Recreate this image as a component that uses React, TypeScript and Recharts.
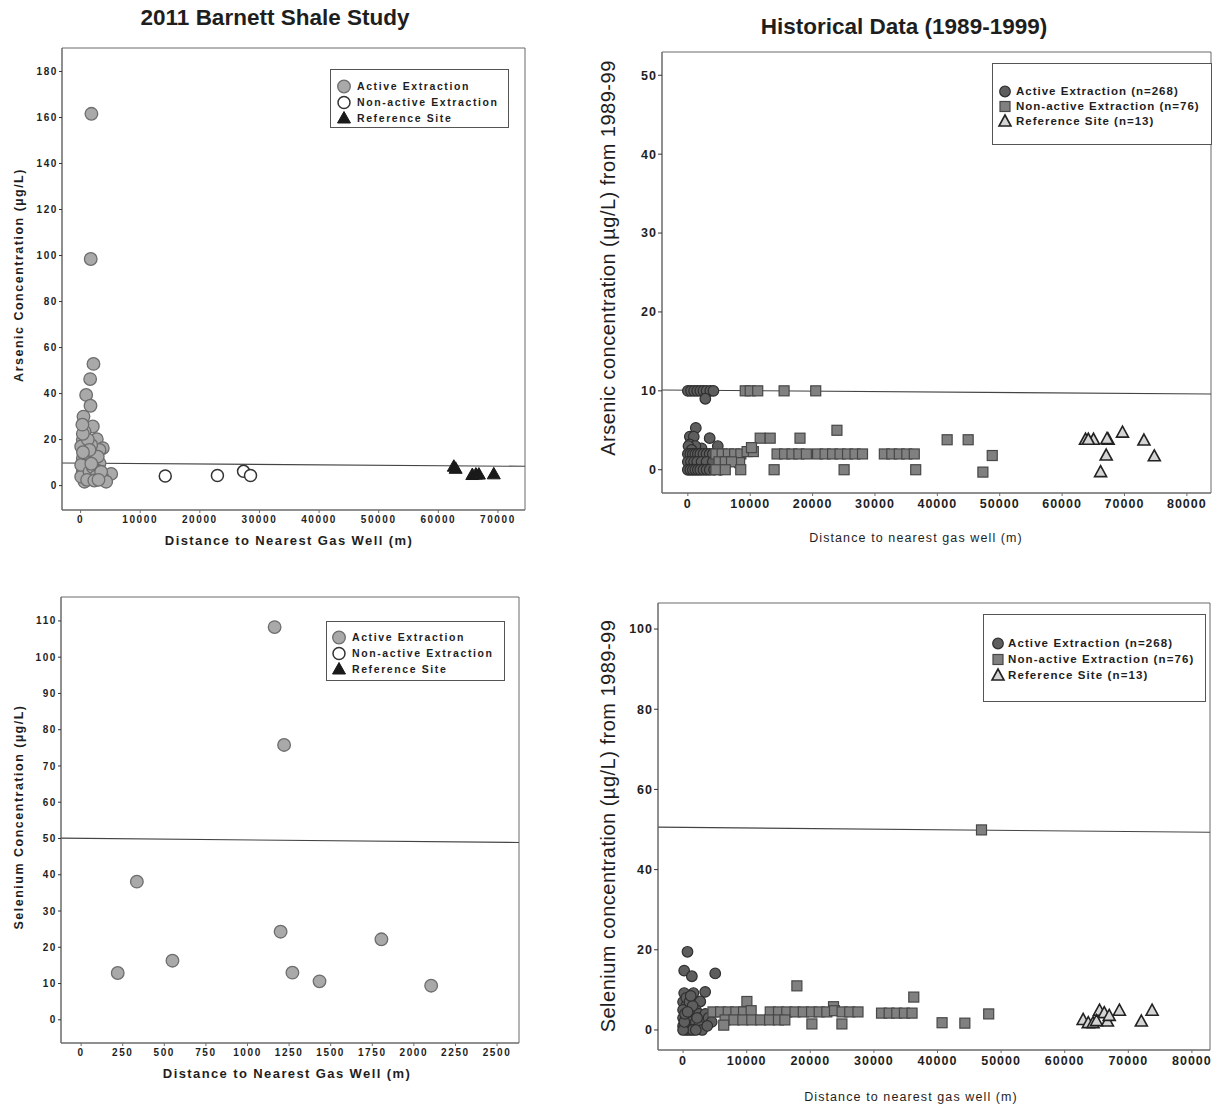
import React from 'react';
import { ScatterChart, Scatter, XAxis, YAxis, ReferenceLine, ReferenceArea, Legend } from 'recharts';

// ---------- DATA ----------
// 2011 Barnett Shale Study - Arsenic (distance m, concentration ug/L)
const barnettArsenicActive: number[][] = [
  [1814, 161.6], [1700, 98.5], [2160, 52.9], [1604, 46.3], [933, 39.4], [1660, 34.7], [486, 30],
  [2050, 25.7], [654, 23.5], [2720, 20.2], [375, 19.9], [3725, 16.3], [3170, 15.5], [1770, 17.7],
  [933, 14.1], [375, 11.9], [2050, 13.3], [3170, 9.7], [933, 8.3], [375, 6.1], [2610, 6.8],
  [5130, 5.1], [3725, 3.2], [1490, 3.2], [654, 1.7], [4290, 1.7], [100, 3.9], [2050, 3.9],
  [1210, 11.2], [2880, 12.6], [100, 17], [100, 9], [1490, 6], [2050, 8], [1210, 20], [375, 22.5],
  [2600, 4], [3450, 6], [654, 14], [1490, 15.5], [300, 26.5], [1100, 2.5], [2300, 2.2], [3000, 2.5],
  [400, 14.5], [1800, 9.5],
];
const barnettArsenicNonActive: number[][] = [[14200, 4.2], [22950, 4.4], [27330, 6.2], [28500, 4.4]];
const barnettArsenicReference: number[][] = [[62600, 8.2], [62900, 7.3], [65700, 4.6], [66300, 4.8], [66800, 4.8], [69300, 4.9]];

// 2011 Barnett Shale Study - Selenium
const barnettSeleniumActive: number[][] = [
  [1163, 108.3], [1220, 75.8], [335, 38.1], [220, 12.9], [549, 16.3], [1199, 24.3], [1270, 13],
  [1433, 10.6], [1805, 22.2], [2104, 9.4],
];

// Historical 1989-1999 - Arsenic
const histArsenicActive: number[][] = [
  [0, 10], [500, 10], [1000, 10], [1500, 10], [2000, 10], [2500, 10], [3000, 10], [3600, 10], [4100, 10], [2800, 9.0],
  [1275, 5.3], [320, 4.2], [950, 4.2], [3500, 4], [300, 3.2], [4800, 3], [2200, 2.7], [1200, 3], [100, 3], [600, 2.5],
  [0, 2], [400, 2], [800, 2], [1200, 2], [1600, 2], [2000, 2], [2500, 2], [3000, 2], [3500, 2], [4000, 2],
  [0, 1], [500, 1], [1000, 1], [1500, 1], [2200, 1], [3000, 1], [4000, 1],
  [0, 0], [400, 0], [800, 0], [1200, 0], [1600, 0], [2000, 0], [2500, 0], [3000, 0], [3500, 0], [4200, 0], [5200, 0],
];
const histArsenicNonActive: number[][] = [
  [9200, 10], [10000, 10], [11200, 10], [15430, 10], [20500, 10],
  [23900, 5], [11600, 4], [13200, 4], [17980, 4], [41570, 3.8], [44940, 3.8],
  [4500, 2], [5500, 2], [6500, 2], [7500, 2], [8500, 2], [9500, 2.3], [10500, 2.3],
  [14300, 2], [15500, 2], [16700, 2], [17800, 2], [19000, 2],
  [20800, 2], [22000, 2], [23200, 2], [24400, 2], [25600, 2], [26800, 2], [28000, 2],
  [31500, 2], [32700, 2], [33900, 2], [35100, 2], [36300, 2], [48800, 1.8],
  [8300, 0.9], [5000, 1], [6000, 1], [7000, 1], [10200, 2.8],
  [8480, 0], [13830, 0], [25050, 0], [36530, 0], [47300, -0.3], [4500, 0], [6000, 0],
];
const histArsenicReference: number[][] = [
  [63750, 3.8], [65030, 3.8], [67380, 3.8], [69680, 4.7], [73120, 3.7], [67070, 1.8], [74780, 1.7],
  [66170, -0.3], [64200, 3.8], [67200, 3.9],
];

// Historical 1989-1999 - Selenium
const histSeleniumActive: number[][] = [
  [690, 19.5], [170, 14.8], [1380, 13.4], [5050, 14.1], [170, 9.2], [1630, 9.2], [3470, 9.5], [2700, 7.1],
  [0, 7], [500, 6], [1000, 5], [1500, 4], [2000, 5], [2500, 4], [3000, 3], [3500, 4], [4000, 3],
  [0, 5], [0, 3], [500, 3], [1000, 2], [1500, 1], [2000, 2], [2500, 1], [3000, 0], [0, 1], [500, 0],
  [1000, 0], [1500, 0], [2000, 0], [500, 8], [1000, 7], [1500, 6], [0, 0], [200, 2], [300, 4],
  [4500, 2], [3800, 1], [2200, 3], [1200, 8.5], [700, 4.5],
];
const histSeleniumNonActive: number[][] = [
  [46920, 49.9], [17890, 11], [10030, 7.1], [23650, 5.8], [36270, 8.2],
  [4700, 4.5], [5900, 4.5], [7100, 4.5], [8300, 4.5], [9500, 4.5], [10700, 4.8], [13700, 4.5],
  [15000, 4.5], [16300, 4.5], [17600, 4.5], [18900, 4.5], [20200, 4.5], [21400, 4.5], [22600, 4.5],
  [23800, 4.8], [25000, 4.5], [26200, 4.5], [27500, 4.5], [31200, 4.2], [32400, 4.2], [33600, 4.2],
  [34800, 4.2], [36000, 4.2],
  [6600, 2.5], [8000, 2.5], [9400, 2.5], [10800, 2.5], [12200, 2.5], [13600, 2.5], [15000, 2.5], [16000, 2.5],
  [20250, 1.5], [24970, 1.5], [6390, 1.2], [40720, 1.8], [44300, 1.7], [48050, 4.0],
];
const histSeleniumReference: number[][] = [
  [62900, 2.5], [63710, 1.7], [64460, 1.7], [65470, 4.8], [66220, 4.2], [66720, 2.1], [68600, 4.8],
  [72050, 2.1], [73740, 4.8], [67000, 3.5], [65000, 2.2],
];

// guideline segments (as drawn, slightly skewed scan)
const barnettArsenicGuide = [[-3118, 9.8], [74535, 8.4]];
const histArsenicGuide = [[-4144, 10.1], [83870, 9.6]];
const barnettSeleniumGuide = [[-121, 50.1], [2632, 48.9]];
const histSeleniumGuide = [[-3946, 50.6], [82846, 49.3]];

// ticks
const barnettArsenicYTicks = [0, 20, 40, 60, 80, 100, 120, 140, 160, 180];
const barnettArsenicXTicks = [0, 10000, 20000, 30000, 40000, 50000, 60000, 70000];
const barnettSeleniumYTicks = [0, 10, 20, 30, 40, 50, 60, 70, 80, 90, 100, 110];
const barnettSeleniumXTicks = [0, 250, 500, 750, 1000, 1250, 1500, 1750, 2000, 2250, 2500];
const histArsenicYTicks = [0, 10, 20, 30, 40, 50];
const histSeleniumYTicks = [0, 20, 40, 60, 80, 100];
const histXTicks = [0, 10000, 20000, 30000, 40000, 50000, 60000, 70000, 80000];

// legend labels
const barnettLegend = ['Active Extraction', 'Non-active Extraction', 'Reference Site'];
const histLegend = ['Active Extraction (n=268)', 'Non-active Extraction (n=76)', 'Reference Site (n=13)'];

// ---------- STYLING ----------
const FONT = "'Liberation Sans', Arial, Helvetica, sans-serif";
const INK = '#1e1e1e';
const FRAME = '#6a6a6a';

const pts = (a: number[][]) => a.map(([d, v]) => ({ d, v }));

type MarkKind = 'bActive' | 'bOpen' | 'bTri' | 'hCircle' | 'hSquare' | 'hTri';

function Mark({ kind, cx, cy }: { kind: MarkKind; cx: number; cy: number }) {
  switch (kind) {
    case 'bActive':
      return <circle cx={cx} cy={cy} r={6.3} fill="#a9a9a9" stroke="#6d6d6d" strokeWidth={1.3} />;
    case 'bOpen':
      return <circle cx={cx} cy={cy} r={6} fill="#ffffff" stroke="#333" strokeWidth={1.5} />;
    case 'bTri':
      return <path d={`M${cx},${cy - 7} L${cx + 6.5},${cy + 4.5} L${cx - 6.5},${cy + 4.5} Z`} fill="#1a1a1a" stroke="#1a1a1a" strokeWidth={1} />;
    case 'hCircle':
      return <circle cx={cx} cy={cy} r={5.3} fill="#5e5e5e" stroke="#2f2f2f" strokeWidth={1.2} />;
    case 'hSquare':
      return <rect x={cx - 5} y={cy - 5} width={10} height={10} fill="#808080" stroke="#474747" strokeWidth={1.2} />;
    case 'hTri':
      return <path d={`M${cx},${cy - 6.5} L${cx + 6},${cy + 4.5} L${cx - 6},${cy + 4.5} Z`} fill="#d4d4d4" stroke="#222" strokeWidth={1.6} />;
  }
  return null;
}

const shapeOf = (kind: MarkKind) => (p: any) => <Mark kind={kind} cx={p.cx} cy={p.cy} />;

type SeriesCfg = { name: string; data: number[][]; kind: MarkKind };

type LegendBoxCfg = {
  left: number; top: number; width: number; height: number;
  padTop: number; rowGap: number; fontSize: number; letterSpacing: number;
  padLeft: number; iconW: number; gap: number;
};

type PanelCfg = {
  left: number; top: number; width: number; height: number;
  frame: [number, number, number, number];
  xDomain: [number, number]; yDomain: [number, number];
  xTicks: number[]; yTicks: number[];
  series: SeriesCfg[];
  guide: number[][];
  yLabel: string; xLabel: string;
  tickStyle: any; yTickSize: number;
  yLabelStyle: any; yLabelX: number; yLabelY: number;
  xLabelStyle: any; xLabelBaseline: number; xLabelCenter: number;
  legendItems: { label: string; kind: MarkKind }[];
  legendBox: LegendBoxCfg;
};

function LegendBox({ cfg }: { cfg: PanelCfg }) {
  const b = cfg.legendBox;
  return (
    <div style={{ width: b.width, height: b.height, border: '1px solid #555', background: '#fff', boxSizing: 'border-box', position: 'relative', fontFamily: FONT }}>
      {cfg.legendItems.map((it, i) => (
        <div key={it.label} style={{ position: 'absolute', left: b.padLeft, top: b.padTop + i * b.rowGap, height: 16, display: 'flex', alignItems: 'center', whiteSpace: 'nowrap' }}>
          <svg width={b.iconW} height={16} style={{ display: 'block', overflow: 'visible' }}>
            <Mark kind={it.kind} cx={b.iconW / 2} cy={8.5} />
          </svg>
          <span style={{ fontSize: b.fontSize, fontWeight: 700, color: INK, letterSpacing: b.letterSpacing, marginLeft: b.gap }}>{it.label}</span>
        </div>
      ))}
    </div>
  );
}

function Panel({ cfg }: { cfg: PanelCfg }) {
  const [x0, y0, x1, y1] = cfg.frame;
  const margin = { top: y0 - cfg.top, right: cfg.left + cfg.width - x1, bottom: 0, left: 0 };
  const yAxisW = x0 - cfg.left;
  const xAxisH = cfg.top + cfg.height - y1;
  const yLab = () => {
    const cx = cfg.yLabelX - cfg.left;
    const cy = cfg.yLabelY - cfg.top;
    return (
      <text x={cx} y={cy} transform={`rotate(-90 ${cx} ${cy})`} textAnchor="middle" dominantBaseline="central" style={cfg.yLabelStyle}>
        {cfg.yLabel}
      </text>
    );
  };
  const xLab = () => (
    <text x={cfg.xLabelCenter - cfg.left} y={cfg.xLabelBaseline - cfg.top} textAnchor="middle" style={cfg.xLabelStyle}>
      {cfg.xLabel}
    </text>
  );
  const [g0, g1] = cfg.guide;
  return (
    <div style={{ position: 'absolute', left: cfg.left, top: cfg.top, width: cfg.width, height: cfg.height }}>
      <ScatterChart width={cfg.width} height={cfg.height} margin={margin}>
        <XAxis
          dataKey="d" type="number" domain={cfg.xDomain} ticks={cfg.xTicks} interval={0} allowDataOverflow
          height={xAxisH} tickSize={3} tickMargin={3}
          axisLine={{ stroke: FRAME }} tickLine={{ stroke: FRAME }} tick={cfg.tickStyle}
          label={xLab}
        />
        <YAxis
          dataKey="v" type="number" domain={cfg.yDomain} ticks={cfg.yTicks} interval={0} allowDataOverflow
          width={yAxisW} tickSize={cfg.yTickSize} tickMargin={1}
          axisLine={{ stroke: FRAME }} tickLine={{ stroke: '#333' }} tick={cfg.tickStyle}
          label={yLab}
        />
        <ReferenceArea
          x1={cfg.xDomain[0]} x2={cfg.xDomain[1]} y1={cfg.yDomain[0]} y2={cfg.yDomain[1]}
          fill="none" fillOpacity={0} stroke={FRAME} strokeWidth={1} ifOverflow="visible"
        />
        <ReferenceLine
          segment={[{ x: g0[0], y: g0[1] }, { x: g1[0], y: g1[1] }]}
          stroke="#444" strokeWidth={1.1} ifOverflow="hidden"
        />
        {cfg.series.map((s) => (
          <Scatter key={s.name} name={s.name} data={pts(s.data)} shape={shapeOf(s.kind)} isAnimationActive={false} />
        ))}
        <Legend
          layout="horizontal" verticalAlign="middle" align="center"
          wrapperStyle={{ left: cfg.legendBox.left - cfg.left, top: cfg.legendBox.top - cfg.top, width: cfg.legendBox.width, height: cfg.legendBox.height }}
          content={() => <LegendBox cfg={cfg} />}
        />
      </ScatterChart>
    </div>
  );
}

const leftTick = { fontSize: 10, fontWeight: 700, fill: INK, fontFamily: FONT, letterSpacing: 1.6 };
const rightTick = { fontSize: 12.5, fontWeight: 700, fill: INK, fontFamily: FONT, letterSpacing: 1 };
const leftYLabel = { fontSize: 12.5, fontWeight: 700, fill: INK, fontFamily: FONT, letterSpacing: 1.5 };
const leftXLabel = { fontSize: 13, fontWeight: 700, fill: INK, fontFamily: FONT, letterSpacing: 1.4 };
const rightYLabel = { fontSize: 20, fontWeight: 400, fill: INK, fontFamily: FONT, letterSpacing: 0.5 };
const rightXLabel = { fontSize: 12.5, fontWeight: 400, fill: INK, fontFamily: FONT, letterSpacing: 1.1 };

const barnettLegendItems = [
  { label: barnettLegend[0], kind: 'bActive' as MarkKind },
  { label: barnettLegend[1], kind: 'bOpen' as MarkKind },
  { label: barnettLegend[2], kind: 'bTri' as MarkKind },
];
const histLegendItems = [
  { label: histLegend[0], kind: 'hCircle' as MarkKind },
  { label: histLegend[1], kind: 'hSquare' as MarkKind },
  { label: histLegend[2], kind: 'hTri' as MarkKind },
];

const panels: PanelCfg[] = [
  {
    left: 0, top: 30, width: 540, height: 530, frame: [62, 48, 525, 510],
    xDomain: [-3118, 74535], yDomain: [-10.6, 190.2], xTicks: barnettArsenicXTicks, yTicks: barnettArsenicYTicks,
    series: [
      { name: 'Active Extraction', data: barnettArsenicActive, kind: 'bActive' },
      { name: 'Non-active Extraction', data: barnettArsenicNonActive, kind: 'bOpen' },
      { name: 'Reference Site', data: barnettArsenicReference, kind: 'bTri' },
    ],
    guide: barnettArsenicGuide,
    yLabel: 'Arsenic Concentration (\u00b5g/L)', xLabel: 'Distance to Nearest Gas Well (m)',
    tickStyle: leftTick, yTickSize: 3, yLabelStyle: leftYLabel, yLabelX: 19, yLabelY: 275,
    xLabelStyle: leftXLabel, xLabelBaseline: 545, xLabelCenter: 289,
    legendItems: barnettLegendItems,
    legendBox: { left: 330, top: 69, width: 179, height: 59, padTop: 8, rowGap: 16, fontSize: 10.5, letterSpacing: 1.6, padLeft: 5, iconW: 16, gap: 5 },
  },
  {
    left: 590, top: 30, width: 625, height: 530, frame: [662, 52, 1211, 493],
    xDomain: [-4144, 83870], yDomain: [-2.95, 52.95], xTicks: histXTicks, yTicks: histArsenicYTicks,
    series: [
      { name: 'Active Extraction (n=268)', data: histArsenicActive, kind: 'hCircle' },
      { name: 'Non-active Extraction (n=76)', data: histArsenicNonActive, kind: 'hSquare' },
      { name: 'Reference Site (n=13)', data: histArsenicReference, kind: 'hTri' },
    ],
    guide: histArsenicGuide,
    yLabel: 'Arsenic concentration (\u00b5g/L) from 1989-99', xLabel: 'Distance to nearest gas well (m)',
    tickStyle: rightTick, yTickSize: 4, yLabelStyle: rightYLabel, yLabelX: 608, yLabelY: 258,
    xLabelStyle: rightXLabel, xLabelBaseline: 542, xLabelCenter: 916,
    legendItems: histLegendItems,
    legendBox: { left: 992, top: 63, width: 220, height: 82, padTop: 19, rowGap: 15, fontSize: 11.5, letterSpacing: 1, padLeft: 6, iconW: 12, gap: 5 },
  },
  {
    left: 0, top: 570, width: 540, height: 520, frame: [61, 597, 519, 1043],
    xDomain: [-121, 2632], yDomain: [-6.4, 116.6], xTicks: barnettSeleniumXTicks, yTicks: barnettSeleniumYTicks,
    series: [
      { name: 'Active Extraction', data: barnettSeleniumActive, kind: 'bActive' },
    ],
    guide: barnettSeleniumGuide,
    yLabel: 'Selenium Concentration (\u00b5g/L)', xLabel: 'Distance to Nearest Gas Well (m)',
    tickStyle: leftTick, yTickSize: 3, yLabelStyle: leftYLabel, yLabelX: 19, yLabelY: 817,
    xLabelStyle: leftXLabel, xLabelBaseline: 1078, xLabelCenter: 287,
    legendItems: barnettLegendItems,
    legendBox: { left: 326, top: 621, width: 179, height: 60, padTop: 7, rowGap: 16, fontSize: 10.5, letterSpacing: 1.6, padLeft: 4, iconW: 16, gap: 5 },
  },
  {
    left: 590, top: 570, width: 625, height: 537, frame: [658, 603, 1210, 1050],
    xDomain: [-3946, 82846], yDomain: [-5, 106.5], xTicks: histXTicks, yTicks: histSeleniumYTicks,
    series: [
      { name: 'Active Extraction (n=268)', data: histSeleniumActive, kind: 'hCircle' },
      { name: 'Non-active Extraction (n=76)', data: histSeleniumNonActive, kind: 'hSquare' },
      { name: 'Reference Site (n=13)', data: histSeleniumReference, kind: 'hTri' },
    ],
    guide: histSeleniumGuide,
    yLabel: 'Selenium concentration (\u00b5g/L) from 1989-99', xLabel: 'Distance to nearest gas well (m)',
    tickStyle: rightTick, yTickSize: 4, yLabelStyle: rightYLabel, yLabelX: 608, yLabelY: 826,
    xLabelStyle: rightXLabel, xLabelBaseline: 1101, xLabelCenter: 911,
    legendItems: histLegendItems,
    legendBox: { left: 983, top: 614, width: 223, height: 88, padTop: 20, rowGap: 16, fontSize: 11.5, letterSpacing: 1.1, padLeft: 8, iconW: 12, gap: 4 },
  },
];

export default function App() {
  return (
    <div style={{ position: 'absolute', left: 0, top: 0, width: 1215, height: 1107, background: '#fff', overflow: 'hidden' }}>
      <div style={{ position: 'absolute', left: 75, top: 4, width: 400, textAlign: 'center', fontFamily: FONT, fontWeight: 700, fontSize: 22.5, lineHeight: '28px', color: INK }}>
        2011 Barnett Shale Study
      </div>
      <div style={{ position: 'absolute', left: 704, top: 13, width: 400, textAlign: 'center', fontFamily: FONT, fontWeight: 700, fontSize: 22.5, lineHeight: '28px', color: INK }}>
        Historical Data (1989-1999)
      </div>
      {panels.map((p, i) => (
        <Panel key={i} cfg={p} />
      ))}
    </div>
  );
}
